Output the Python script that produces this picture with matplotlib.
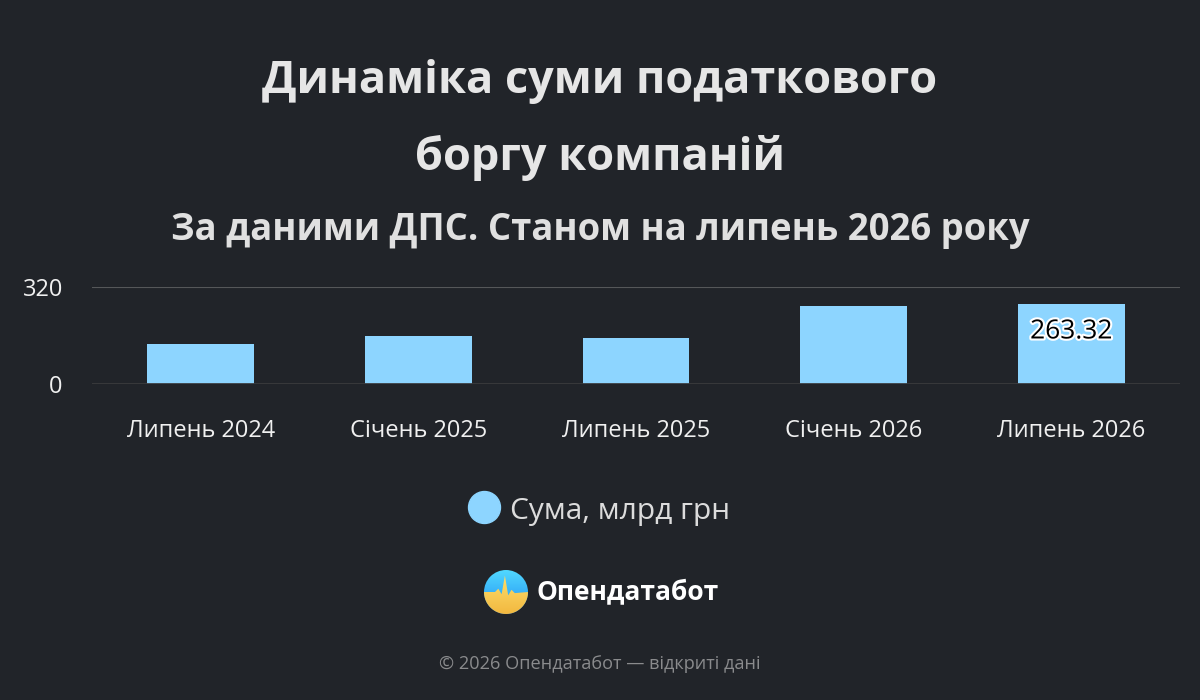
import numpy as np
import matplotlib
matplotlib.use("Agg")
import matplotlib.pyplot as plt
import matplotlib.patheffects as pe
from matplotlib.patches import Circle, Polygon
from matplotlib.lines import Line2D

categories = ["Липень 2024", "Січень 2025", "Липень 2025", "Січень 2026", "Липень 2026"]
values = [132, 158, 151, 256, 263.32]
yticks = [0, 320]
series_name = "Сума, млрд грн"
title = "Динаміка суми податкового\nборгу компаній"
subtitle = "За даними ДПС. Станом на липень 2026 року"
footer = "© 2026 Опендатабот — відкриті дані"

bg = "#212429"
bar_color = "#8dd5ff"
plt.rcParams["font.family"] = ["Open Sans", "DejaVu Sans"]

fig = plt.figure(figsize=(12, 7), dpi=100, facecolor=bg)
ax = fig.add_axes([92 / 1200, 1 - 384 / 700, 1088 / 1200, 97 / 700])
ax.set_facecolor(bg)

x = np.arange(len(categories))
ax.bar(x, values, width=0.49, color=bar_color, zorder=3)
ax.set_xlim(-0.5, len(categories) - 0.5)
ax.set_ylim(0, 320)
ax.set_yticks(yticks)
ax.set_yticklabels([str(t) for t in yticks])
ax.set_xticks(x)
ax.set_xticklabels(categories)
ax.tick_params(axis="both", length=0, colors="#f0f0f0", labelsize=17)
ax.tick_params(axis="x", pad=25)
ax.tick_params(axis="y", pad=21)
for s in ax.spines.values():
    s.set_visible(False)
ax.axhline(320, color="#555759", lw=1.5, zorder=1)
ax.axhline(0, color="#3a3b3d", lw=2, zorder=4)

# label on last bar
ax.annotate(f"{values[-1]:.2f}", (x[-1], values[-1]), xytext=(0, -20),
            textcoords="offset points", ha="center", va="center",
            fontsize=19, color="black", zorder=5,
            path_effects=[pe.withStroke(linewidth=3, foreground="white")])

fig.text(0.5, 1 - 120 / 700, title, ha="center", va="center", fontsize=32.5,
         fontweight="bold", color="#e6e6e6", linespacing=1.9)
fig.text(0.5, 1 - 230 / 700, subtitle, ha="center", va="center", fontsize=26.3,
         fontweight="bold", color="#e0e0e0")

# legend
fig.add_artist(Line2D([484 / 1200], [1 - 507 / 700], transform=fig.transFigure,
                      marker="o", markersize=23, color=bar_color, linestyle="none"))
fig.text(510 / 1200, 1 - 512 / 700, series_name, ha="left", va="center",
         fontsize=21.5, color="#dcdcdc")

# logo
lax = fig.add_axes([484 / 1200, 1 - 614 / 700, 44 / 1200, 44 / 700])
lax.set_xlim(-1, 1)
lax.set_ylim(-1, 1)
lax.set_aspect("equal")
lax.axis("off")
grad = np.linspace(0, 1, 100).reshape(-1, 1)
blue = lax.imshow(np.dstack([0.12 + 0.2 * grad, 0.55 + 0.3 * grad, 0.95 + 0.05 * grad]),
                  extent=(-1, 1, -1, 1), origin="lower")
yellow = lax.imshow(np.dstack([0.95 + 0.05 * grad, 0.72 + 0.18 * grad, 0.25 + 0.2 * grad]),
                    extent=(-1, 1, -1, 1), origin="lower", zorder=2)
blue.set_clip_path(Circle((0, 0), 1, transform=lax.transData))
ang = np.linspace(0, -np.pi, 40)
wave_pts = [(-1, 0.0), (-0.5, 0.0), (-0.35, 0.15), (-0.2, -0.1), (-0.05, 0.75),
            (0.1, -0.15), (0.25, 0.1), (0.4, -0.05), (1, 0.0)]
wave_pts += list(zip(np.cos(ang), np.sin(ang)))
yellow.set_clip_path(Polygon(wave_pts, transform=lax.transData))
fig.text(536 / 1200, 1 - 592 / 700, "Опендатабот", ha="left", va="center",
         fontsize=19, fontweight="bold", color="white")

fig.text(0.5, 1 - 664 / 700, footer, ha="center", va="center", fontsize=13.1, color="#8a8b8d")

fig.savefig("out.png", dpi=100, facecolor=bg)
